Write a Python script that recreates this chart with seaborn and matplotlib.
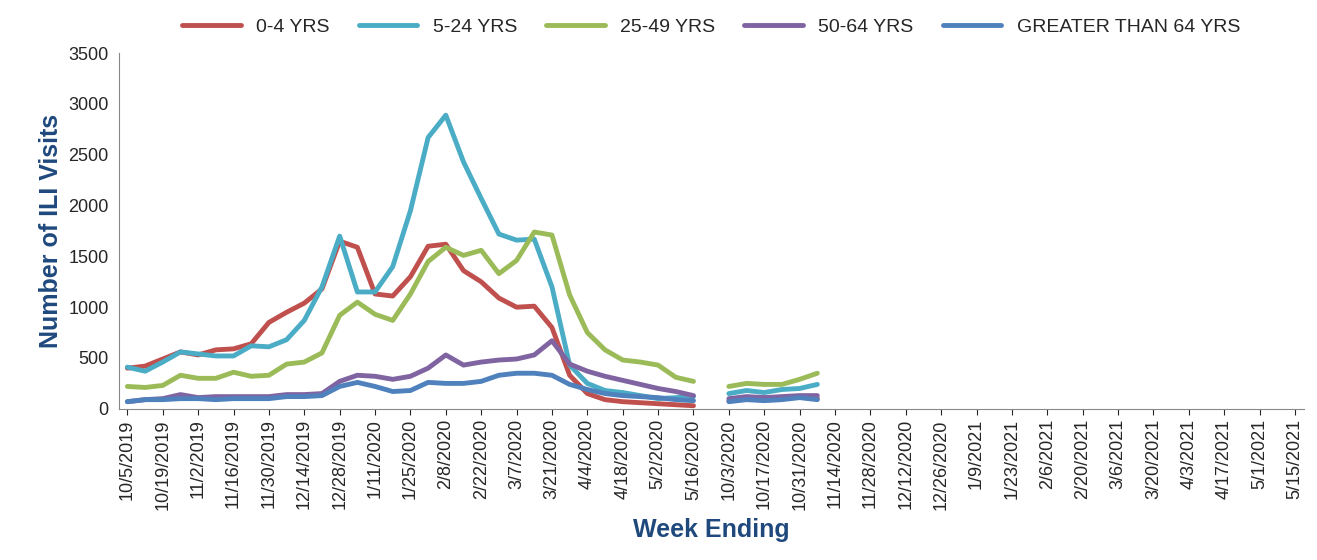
import numpy as np
import pandas as pd
import seaborn as sns
import matplotlib.pyplot as plt
from datetime import date, timedelta

# week labels: two seasons, 33 weeks each
s1 = [date(2019, 10, 5) + timedelta(weeks=i) for i in range(33)]
s2 = [date(2020, 10, 3) + timedelta(weeks=i) for i in range(33)]
weeks = [f"{d.month}/{d.day}/{d.year}" for d in s1 + s2]

nan = np.nan
pad = [nan] * 27
age_0_4 = [400, 420, 490, 560, 530, 580, 590, 640, 850, 950, 1040, 1180, 1650, 1590, 1130, 1110,
           1300, 1600, 1620, 1360, 1250, 1090, 1000, 1010, 800, 330, 150, 90, 70, 60, 50, 40, 30,
           80, 100, 110, 100, 120, 100] + pad
age_5_24 = [410, 370, 460, 560, 540, 520, 520, 620, 610, 680, 870, 1200, 1700, 1150, 1150, 1400,
            1950, 2670, 2890, 2430, 2070, 1720, 1660, 1670, 1200, 430, 250, 180, 160, 130, 100, 110, 120,
            150, 180, 160, 190, 200, 240] + pad
age_25_49 = [220, 210, 230, 330, 300, 300, 360, 320, 330, 440, 460, 550, 920, 1050, 930, 870,
             1130, 1450, 1590, 1510, 1560, 1330, 1460, 1740, 1710, 1120, 750, 580, 480, 460, 430, 310, 270,
             220, 250, 240, 240, 290, 350] + pad
age_50_64 = [70, 90, 100, 140, 110, 120, 120, 120, 120, 140, 140, 150, 270, 330, 320, 290,
             320, 400, 530, 430, 460, 480, 490, 530, 670, 440, 370, 320, 280, 240, 200, 170, 130,
             100, 120, 110, 120, 130, 130] + pad
age_65 = [70, 90, 90, 100, 100, 90, 100, 100, 100, 120, 120, 130, 220, 260, 220, 170,
          180, 260, 250, 250, 270, 330, 350, 350, 330, 240, 190, 150, 130, 120, 110, 90, 80,
          70, 90, 80, 90, 110, 90] + pad

series = {"0-4 YRS": age_0_4, "5-24 YRS": age_5_24, "25-49 YRS": age_25_49,
          "50-64 YRS": age_50_64, "GREATER THAN 64 YRS": age_65}
colors = ["#C0504D", "#4BACC6", "#9BBB59", "#8064A2", "#4F81BD"]

# x positions with a one-slot gap between seasons
xpos = list(range(33)) + list(range(34, 67))
labels = weeks[:33] + [""] + weeks[33:]
rows = []
for name, vals in series.items():
    for i, (x, v) in enumerate(zip(xpos, vals)):
        rows.append((x, v, name, 0 if i < 33 else 1))
df = pd.DataFrame(rows, columns=["x", "visits", "group", "season"])

sns.set_style("white")
plt.rcParams['font.family'] = ['Liberation Sans', 'DejaVu Sans']
fig, ax = plt.subplots(figsize=(13.17, 5.6), dpi=100)
for name, c in zip(series, colors):
    for season in (0, 1):
        grp = df[(df.group == name) & (df.season == season)]
        sns.lineplot(data=grp, x="x", y="visits", color=c, linewidth=3.5,
                     label=name if season == 0 else None, ax=ax)

ax.set_xlim(-0.5, 66.5)
ax.set_ylim(0, 3500)
ax.set_yticks(range(0, 3501, 500))
ax.set_xticks(range(0, 67, 2))
ax.set_xticklabels(labels[::2], rotation=90, fontsize=13)
ax.tick_params(axis="y", labelsize=13)
ax.tick_params(axis="x", direction="out", length=4, bottom=True)
for s in ["top", "right"]:
    ax.spines[s].set_visible(False)
ax.spines["left"].set_color("#888888")
ax.spines["bottom"].set_color("#888888")
ax.set_xlabel("Week Ending", fontsize=18, fontweight="bold", color="#1F497D", labelpad=6)
ax.set_ylabel("Number of ILI Visits", fontsize=18, fontweight="bold", color="#1F497D")
ax.legend(loc="lower center", bbox_to_anchor=(0.5, 1.0), ncol=5, frameon=False,
          fontsize=14, handlelength=3, columnspacing=1.5)
fig.subplots_adjust(left=0.09, right=0.99, top=0.905, bottom=0.27)
fig.savefig("out.png")
